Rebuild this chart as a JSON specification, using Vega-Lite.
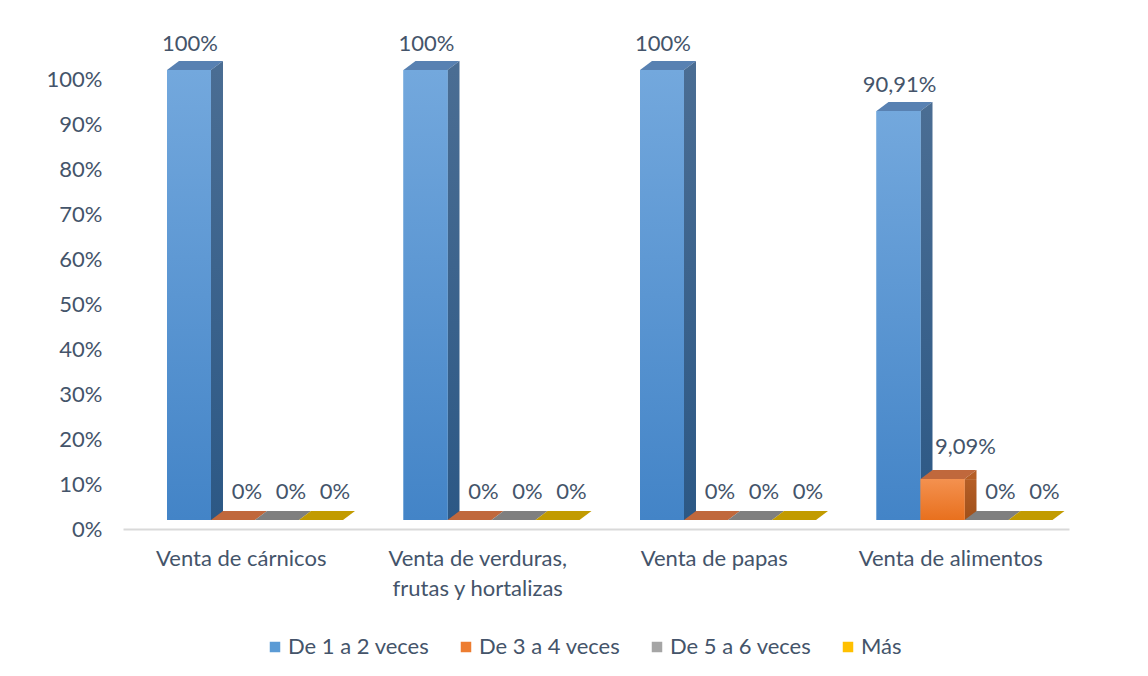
{
  "$schema": "https://vega.github.io/schema/vega-lite/v6.json",
  "width": 946,
  "height": 450,
  "autosize": "none",
  "padding": {"left": 123, "top": 70, "right": 79, "bottom": 156},
  "background": "white",
  "config": {
    "view": {"stroke": null},
    "font": "Lato",
    "locale": {"number": {"decimal": ",", "thousands": ".", "grouping": [3], "currency": ["", " €"]}}
  },
  "data": {
    "values": [
      {"categoria": "Venta de cárnicos", "serie": "De 1 a 2 veces", "valor": 1},
      {"categoria": "Venta de cárnicos", "serie": "De 3 a 4 veces", "valor": 0},
      {"categoria": "Venta de cárnicos", "serie": "De 5 a 6 veces", "valor": 0},
      {"categoria": "Venta de cárnicos", "serie": "Más", "valor": 0},
      {"categoria": "Venta de verduras, frutas y hortalizas", "serie": "De 1 a 2 veces", "valor": 1},
      {"categoria": "Venta de verduras, frutas y hortalizas", "serie": "De 3 a 4 veces", "valor": 0},
      {"categoria": "Venta de verduras, frutas y hortalizas", "serie": "De 5 a 6 veces", "valor": 0},
      {"categoria": "Venta de verduras, frutas y hortalizas", "serie": "Más", "valor": 0},
      {"categoria": "Venta de papas", "serie": "De 1 a 2 veces", "valor": 1},
      {"categoria": "Venta de papas", "serie": "De 3 a 4 veces", "valor": 0},
      {"categoria": "Venta de papas", "serie": "De 5 a 6 veces", "valor": 0},
      {"categoria": "Venta de papas", "serie": "Más", "valor": 0},
      {"categoria": "Venta de alimentos", "serie": "De 1 a 2 veces", "valor": 0.9091},
      {"categoria": "Venta de alimentos", "serie": "De 3 a 4 veces", "valor": 0.0909},
      {"categoria": "Venta de alimentos", "serie": "De 5 a 6 veces", "valor": 0},
      {"categoria": "Venta de alimentos", "serie": "Más", "valor": 0}
    ]
  },
  "encoding": {
    "x": {
      "field": "categoria",
      "type": "nominal",
      "sort": ["Venta de cárnicos", "Venta de verduras, frutas y hortalizas", "Venta de papas", "Venta de alimentos"],
      "scale": {"paddingInner": 0, "paddingOuter": 0},
      "axis": {
        "title": null,
        "offset": 9,
        "domainColor": "#d9d9d9",
        "domainWidth": 2,
        "ticks": false,
        "labelAngle": 0,
        "labelPadding": 19,
        "labelLimit": 400,
        "labelFontSize": 22,
        "labelColor": "#44546a",
        "labelLineHeight": 30,
        "labelExpr": "datum.label == 'Venta de verduras, frutas y hortalizas' ? ['Venta de verduras,', 'frutas y hortalizas'] : datum.label"
      }
    },
    "y": {
      "field": "valor",
      "type": "quantitative",
      "scale": {"domain": [0, 1]},
      "axis": {
        "title": null,
        "format": ".0%",
        "values": [0, 0.1, 0.2, 0.3, 0.4, 0.5, 0.6, 0.7, 0.8, 0.9, 1],
        "domain": false,
        "ticks": false,
        "grid": false,
        "labelOffset": 9,
        "labelPadding": 21,
        "labelFontSize": 22,
        "labelColor": "#44546a"
      }
    }
  },
  "layer": [
    {
      "transform": [{"filter": "datum.valor > 0 && datum.serie == 'De 1 a 2 veces'"}],
      "mark": {"type": "bar", "fill": {"gradient": "linear", "x1": 0, "y1": 0, "x2": 0, "y2": 1, "stops": [{"offset": 0, "color": "#4a6d93"}, {"offset": 1, "color": "#2c5885"}]}},
      "encoding": {
        "xOffset": {
          "field": "serie",
          "type": "nominal",
          "scale": {"domain": ["De 1 a 2 veces", "De 3 a 4 veces", "De 5 a 6 veces", "Más"], "range": [88, 232], "paddingInner": 0.7273, "paddingOuter": 0}
        }
      }
    },
    {
      "transform": [{"filter": "datum.valor > 0 && datum.serie == 'De 3 a 4 veces'"}],
      "mark": {"type": "bar", "fill": {"gradient": "linear", "x1": 0, "y1": 0, "x2": 0, "y2": 1, "stops": [{"offset": 0, "color": "#b55e26"}, {"offset": 1, "color": "#a0501a"}]}},
      "encoding": {
        "xOffset": {
          "field": "serie",
          "type": "nominal",
          "scale": {"domain": ["De 1 a 2 veces", "De 3 a 4 veces", "De 5 a 6 veces", "Más"], "range": [88, 232], "paddingInner": 0.7273, "paddingOuter": 0}
        }
      }
    },
    {
      "mark": {"type": "bar"},
      "encoding": {
        "xOffset": {
          "field": "serie",
          "type": "nominal",
          "scale": {"domain": ["De 1 a 2 veces", "De 3 a 4 veces", "De 5 a 6 veces", "Más"], "range": [44, 220], "paddingInner": 0, "paddingOuter": 0}
        },
        "color": {
          "field": "serie",
          "type": "nominal",
          "scale": {"domain": ["De 1 a 2 veces", "De 3 a 4 veces", "De 5 a 6 veces", "Más"], "range": ["#5b9bd5", "#ed7d31", "#a5a5a5", "#ffc000"]},
          "legend": {
            "orient": "none",
            "legendX": 141,
            "legendY": 566,
            "direction": "horizontal",
            "columns": 4,
            "title": null,
            "symbolType": "square",
            "symbolSize": 110,
            "symbolStrokeWidth": 0,
            "labelFontSize": 22,
            "labelColor": "#44546a",
            "labelOffset": 2,
            "columnPadding": 25
          }
        }
      }
    },
    {
      "transform": [{"filter": "datum.serie == 'De 1 a 2 veces'"}],
      "mark": {"type": "bar", "fill": {"gradient": "linear", "x1": 0, "y1": 0, "x2": 0, "y2": 1, "stops": [{"offset": 0, "color": "#73a8dd"}, {"offset": 1, "color": "#4384c7"}]}},
      "encoding": {
        "xOffset": {
          "field": "serie",
          "type": "nominal",
          "scale": {"domain": ["De 1 a 2 veces", "De 3 a 4 veces", "De 5 a 6 veces", "Más"], "range": [44, 220], "paddingInner": 0, "paddingOuter": 0}
        }
      }
    },
    {
      "transform": [{"filter": "datum.valor > 0 && datum.serie == 'De 3 a 4 veces'"}],
      "mark": {"type": "bar", "fill": {"gradient": "linear", "x1": 0, "y1": 0, "x2": 0, "y2": 1, "stops": [{"offset": 0, "color": "#f4914f"}, {"offset": 1, "color": "#e8701e"}]}},
      "encoding": {
        "xOffset": {
          "field": "serie",
          "type": "nominal",
          "scale": {"domain": ["De 1 a 2 veces", "De 3 a 4 veces", "De 5 a 6 veces", "Más"], "range": [44, 220], "paddingInner": 0, "paddingOuter": 0}
        }
      }
    },
    {
      "mark": {"type": "point", "shape": "M-0.647,0L0.647,0L1,-0.265L-0.294,-0.265Z", "size": 4624, "filled": true, "opacity": 1, "strokeWidth": 0},
      "encoding": {
        "xOffset": {
          "field": "serie",
          "type": "nominal",
          "scale": {"type": "point", "domain": ["De 1 a 2 veces", "De 3 a 4 veces", "De 5 a 6 veces", "Más"], "range": [66, 198], "padding": 0}
        },
        "fill": {
          "field": "serie",
          "type": "nominal",
          "scale": {"domain": ["De 1 a 2 veces", "De 3 a 4 veces", "De 5 a 6 veces", "Más"], "range": ["#5881b2", "#c0683c", "#7f7f7f", "#c29b00"]},
          "legend": null
        }
      }
    },
    {
      "transform": [{"filter": "datum.valor > 0"}],
      "mark": {"type": "point", "shape": "M0.647,0L1,-0.265L1,0Z", "size": 4624, "filled": true, "opacity": 1, "strokeWidth": 0},
      "encoding": {
        "xOffset": {
          "field": "serie",
          "type": "nominal",
          "scale": {"type": "point", "domain": ["De 1 a 2 veces", "De 3 a 4 veces", "De 5 a 6 veces", "Más"], "range": [66, 198], "padding": 0}
        },
        "fill": {
          "field": "serie",
          "type": "nominal",
          "scale": {"domain": ["De 1 a 2 veces", "De 3 a 4 veces", "De 5 a 6 veces", "Más"], "range": ["#4a6d93", "#b55e26", "#6b6b6b", "#a98500"]},
          "legend": null
        }
      }
    },
    {
      "transform": [{"filter": "datum.valor >= 0.5"}],
      "mark": {"type": "text", "dx": 1, "dy": -26, "baseline": "middle", "align": "center", "fontSize": 22, "color": "#44546a"},
      "encoding": {
        "xOffset": {
          "field": "serie",
          "type": "nominal",
          "scale": {"type": "point", "domain": ["De 1 a 2 veces", "De 3 a 4 veces", "De 5 a 6 veces", "Más"], "range": [66, 198], "padding": 0}
        },
        "text": {"field": "valor", "type": "quantitative", "format": ".2~%"}
      }
    },
    {
      "transform": [{"filter": "datum.valor > 0 && datum.valor < 0.5"}],
      "mark": {"type": "text", "dx": 23, "dy": -32, "baseline": "middle", "align": "center", "fontSize": 22, "color": "#44546a"},
      "encoding": {
        "xOffset": {
          "field": "serie",
          "type": "nominal",
          "scale": {"type": "point", "domain": ["De 1 a 2 veces", "De 3 a 4 veces", "De 5 a 6 veces", "Más"], "range": [66, 198], "padding": 0}
        },
        "text": {"field": "valor", "type": "quantitative", "format": ".2~%"}
      }
    },
    {
      "transform": [{"filter": "datum.valor == 0"}],
      "mark": {"type": "text", "dx": 14, "dy": -28, "baseline": "middle", "align": "center", "fontSize": 22, "color": "#44546a"},
      "encoding": {
        "xOffset": {
          "field": "serie",
          "type": "nominal",
          "scale": {"type": "point", "domain": ["De 1 a 2 veces", "De 3 a 4 veces", "De 5 a 6 veces", "Más"], "range": [66, 198], "padding": 0}
        },
        "text": {"field": "valor", "type": "quantitative", "format": ".2~%"}
      }
    }
  ],
  "resolve": {"scale": {"xOffset": "independent", "fill": "independent"}}
}
